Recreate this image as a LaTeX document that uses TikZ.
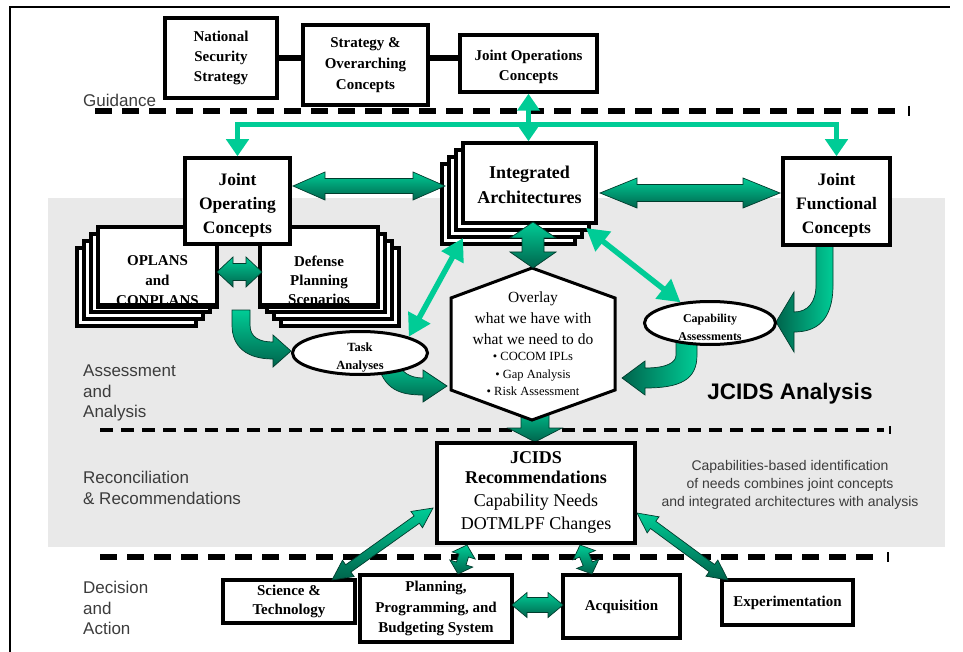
\documentclass[tikz,border=0pt]{standalone}
\usepackage{fontspec}
\setmainfont{Liberation Serif}
\newfontfamily\lsans{Liberation Sans}
\usetikzlibrary{calc,shapes.geometric,arrows.meta}

\definecolor{gL}{RGB}{0,204,150}
\definecolor{gD}{RGB}{0,100,76}
\definecolor{gOut}{RGB}{0,60,45}
\definecolor{bgGray}{RGB}{233,233,233}
\definecolor{lblGray}{RGB}{60,60,60}

\newcommand\fsz[2]{\fontsize{#1}{#2}\selectfont}

% double-headed block arrow: from, to, shaft half width, head half width, head length
\newcommand\dblarrow[5]{%
  \path let \p1=($(#2)-(#1)$) in \pgfextra{%
    \pgfmathsetmacro\arLen{veclen(\x1,\y1)}%
    \pgfmathsetmacro\arAng{atan2(\y1,\x1)}%
    \global\let\garLen\arLen \global\let\garAng\arAng};
  \begin{scope}[shift={(#1)}, rotate=\garAng, x=1pt, y=1pt]
    \path[blockarrow] (0,0) -- (#5,#4) -- (#5,#3) -- (\garLen-#5,#3) -- (\garLen-#5,#4) -- (\garLen,0)
      -- (\garLen-#5,-#4) -- (\garLen-#5,-#3) -- (#5,-#3) -- (#5,-#4) -- cycle;
  \end{scope}}
% single-headed block arrow
\newcommand\sglarrow[5]{%
  \path let \p1=($(#2)-(#1)$) in \pgfextra{%
    \pgfmathsetmacro\arLen{veclen(\x1,\y1)}%
    \pgfmathsetmacro\arAng{atan2(\y1,\x1)}%
    \global\let\garLen\arLen \global\let\garAng\arAng};
  \begin{scope}[shift={(#1)}, rotate=\garAng, x=1pt, y=1pt]
    \path[blockarrow] (0,#3) -- (\garLen-#5,#3) -- (\garLen-#5,#4) -- (\garLen,0)
      -- (\garLen-#5,-#4) -- (\garLen-#5,-#3) -- (0,-#3) -- cycle;
  \end{scope}}

\tikzset{
  dbox/.style={draw, line width=3.5pt, fill=white, inner sep=0pt, align=center},
  dlayer/.style={draw, line width=3.5pt, fill=white},
  btxt/.style={align=center, inner sep=0pt},
  lbl/.style={font=\lsans\fsz{17}{20.5}, text=lblGray, align=left, anchor=west, inner sep=0pt},
  gline/.style={draw=gL, line width=5pt},
  gboth/.style={{Triangle[length=17pt,width=22pt]}-{Triangle[length=17pt,width=22pt]}},
  thinarrow/.style={draw=gL, line width=5.5pt, {Triangle[length=22pt,width=24pt]}-{Triangle[length=22pt,width=24pt]}},
  blockarrow/.style={draw=gOut, line width=0.7pt, top color=gL, bottom color=gD},
  blockarrowH/.style={draw=gOut, line width=0.7pt, left color=gD, right color=gL},
  dashA/.style={line width=6pt, dash pattern=on 17pt off 10pt},
  dashB/.style={line width=4pt, dash pattern=on 13pt off 8pt},
  doval/.style={ellipse, draw, line width=3pt, fill=white, inner sep=0pt},
  sz/.style 2 args={minimum width=#1pt, minimum height=#2pt},
}

\begin{document}
\begin{tikzpicture}[x=1pt,y=-1pt]
\useasboundingbox (0,0) rectangle (963,652);
\fill[bgGray] (48,198) rectangle (945,547);
\draw[line width=1.5pt] (10,652) -- (10,7) -- (950,7);

% dashed separators
\draw[dashA] (95,111) -- (902,111);
\draw[line width=1.2pt] (909,106) -- (909,116);
\draw[dashB] (100,430) -- (884,430);
\draw[line width=1.2pt] (890,426) -- (890,434);
\draw[dashA] (100,557) -- (880,557);
\draw[line width=1.2pt] (888,552) -- (888,562);

% side labels
\node[lbl] (lguid) at (83,100) {Guidance};
\node[lbl] (lassess) at (83,393) {Assessment\\and\\Analysis};
\node[lbl] (lrecon) at (83,488) {Reconciliation\\\& Recommendations};
\node[lbl] (ldecis) at (83,608) {Decision\\and\\Action};

% guidance boxes
\node[dbox, sz={112}{80}, font=\bfseries\fsz{15}{20}] (nss) at (221,58) {National\\Security\\Strategy};
\node[dbox, sz={125}{80}, font=\bfseries\fsz{15}{21}] (soc) at (365.5,65) {Strategy \&\\Overarching\\Concepts};
\node[dbox, sz={137}{57}] (joc) at (528.5,63.5) {};
\node[btxt, font=\bfseries\fsz{15}{20}] (joctxt) at (528.5,67) {Joint Operations\\Concepts};
\draw[line width=6pt] (nss.east) -- (nss.east -| soc.west);
\draw[line width=6pt] (soc.east |- nss.east) -- (nss.east -| joc.west);

% curved block arrows (under boxes and ellipses)
\path[blockarrowH] (816,240) -- (833,240) -- (833,285) .. controls (833,322) and (815,332) .. (794,332)
  -- (794,352) -- (776,322) -- (794,292) -- (794,312) .. controls (808,312) and (816,302) .. (816,285) -- cycle;
\path[blockarrowH] (676,335) -- (697,335) -- (697,355) .. controls (697,380) and (680,388) .. (645,388)
  -- (645,395) -- (622,378) -- (645,361) -- (645,368) .. controls (668,368) and (676,362) .. (676,355) -- cycle;
\path[blockarrow] (377,362) .. controls (384,390) and (400,395) .. (423,395) -- (423,402) -- (447,386)
  -- (423,370) -- (423,378) .. controls (410,378) and (400,372) .. (397,360) -- cycle;
\path[blockarrow] (232,310) -- (250,310) -- (250,325) .. controls (250,337) and (259,342) .. (273,342)
  -- (273,335) -- (291,351) -- (273,367) -- (273,359) .. controls (247,359) and (232,347) .. (232,325) -- cycle;

% OPLANS stack
\foreach \k in {3,2,1} \draw[dlayer] (98-7*\k,227+7*\k) rectangle (217-7*\k,305+7*\k);
\node[dbox, sz={119}{78}] (opl) at (157.5,266) {};
\node[btxt, font=\bfseries\fsz{15}{20}] (opltxt) at (157.5,281) {OPLANS\\and\\CONPLANS};
\draw[line width=3.5pt] (opl.south west) -- (opl.south east);

% Defense Planning Scenarios stack
\foreach \k in {3,2,1} \draw[dlayer] (260+7*\k,227+7*\k) rectangle (378+7*\k,305+7*\k);
\node[dbox, sz={118}{78}] (dps) at (319,266) {};
\node[btxt, font=\bfseries\fsz{15}{19}] (dpstxt) at (319,280) {Defense\\Planning\\Scenarios};
\draw[line width=3.5pt] (dps.south west) -- (dps.south east);

% Joint Operating Concepts
\node[dbox, sz={105}{86}] (jop) at (237.5,201) {};
\node[btxt, font=\bfseries\fsz{17.5}{24}] (joptxt) at (237.5,205) {Joint\\Operating\\Concepts};

% Integrated Architectures stack
\foreach \k in {3,2,1} \draw[dlayer] (463-7*\k,143+7*\k) rectangle (596-7*\k,223+7*\k);
\node[dbox, sz={133}{80}] (ia) at (529.5,183) {};
\node[btxt, font=\bfseries\fsz{18}{25}] (iatxt) at (529.5,185) {Integrated\\Architectures};

% Joint Functional Concepts
\node[dbox, sz={107}{87}] (jfc) at (836.5,201.5) {};
\node[btxt, font=\bfseries\fsz{17.5}{24}] (jfctxt) at (836.5,205.5) {Joint\\Functional\\Concepts};

% guidance green connectors
\coordinate (gy) at (0,125);
\draw[gline, gboth] (jop.north) -- (jop.north |- gy) -- (jfc.north |- gy) -- (jfc.north);
\draw[gline, gboth] (joc.south) -- (joc.south |- ia.north);

% hexagon -> JCIDS arrow (under hexagon)
\coordinate (a5s) at (535,405);
\coordinate (a5e) at (535,442);
\sglarrow{a5s}{a5e}{14}{27}{14}

% hexagon
\draw[line width=3pt, fill=white] (532,268) -- (615,298) -- (615,390) -- (532,420) -- (451,390) -- (451,298) -- cycle;
\node[btxt, font=\fsz{15.5}{21}] (hexA) at (533,318) {Overlay\\what we have with\\what we need to do};
\node[btxt, font=\fsz{12.5}{17.5}] (hexB) at (533,374) {\textbullet\ COCOM IPLs\\\textbullet\ Gap Analysis\\\textbullet\ Risk Assessment};

% ellipses
\node[doval, minimum width=135pt, minimum height=43pt] (task) at (360,353) {};
\node[btxt, font=\bfseries\fsz{12.5}{18}] (tasktxt) at (360,358) {Task\\Analyses};
\node[doval, minimum width=131pt, minimum height=43pt] (cap) at (710,323) {};
\node[btxt, font=\bfseries\fsz{12}{18}] (captxt) at (710,327) {Capability\\Assessments};

% straight block arrows
\coordinate (a1s) at (293,186); \coordinate (a1e) at (445,186);
\dblarrow{a1s}{a1e}{7.5}{14}{32}
\coordinate (a2s) at (217,272); \coordinate (a2e) at (262,272);
\dblarrow{a2s}{a2e}{8.5}{15}{16}
\coordinate (a3s) at (600,193); \coordinate (a3e) at (780,193);
\dblarrow{a3s}{a3e}{8.5}{15}{37}
\coordinate (a4s) at (533,222); \coordinate (a4e) at (533,268);
\dblarrow{a4s}{a4e}{11}{23}{16}

% thin diagonal arrows
\coordinate (iaTL) at (463,238);
\coordinate (iaTR) at (586,228);
\draw[thinarrow] (task.north east) -- (iaTL);
\draw[thinarrow] (iaTR) -- (cap.145);

% analysis title and note
\node[font=\lsans\bfseries\fsz{22.5}{26}, inner sep=0pt] (jana) at (790,394) {JCIDS Analysis};
\node[btxt, font=\lsans\fsz{14}{18}, text=lblGray] (capid) at (790,485) {Capabilities-based identification\\of needs combines joint concepts\\and integrated architectures with analysis};

% JCIDS recommendations
\node[dbox, sz={198}{100}] (jrec) at (536,493) {};
\node[btxt, font=\bfseries\fsz{18}{20}] (jrecA) at (536,468) {JCIDS\\Recommendations};
\node[btxt, font=\fsz{18}{23}] (jrecB) at (536,514) {Capability Needs\\DOTMLPF Changes};

% decision boxes
\node[dbox, sz={132}{43}, font=\bfseries\fsz{15}{19}] (st) at (289,601.5) {Science \&\\Technology};
\node[dbox, sz={152}{67}, font=\bfseries\fsz{15}{20.5}] (ppbs) at (436,608.5) {Planning,\\Programming, and\\Budgeting System};
\node[dbox, sz={117}{63}, font=\bfseries\fsz{15}{19}] (acq) at (621.5,606.5) {Acquisition};
\node[dbox, sz={131}{45}, font=\bfseries\fsz{15}{19}] (exp) at (787.5,602.5) {Experimentation};

% decision arrows
\coordinate (b1s) at (433,508); \coordinate (b1e) at (332,580);
\dblarrow{b1s}{b1e}{4.5}{10}{20}
\coordinate (b2s) at (467,545); \coordinate (b2e) at (458,574);
\dblarrow{b2s}{b2e}{5}{12}{11}
\coordinate (b3s) at (580,545); \coordinate (b3e) at (592,574);
\dblarrow{b3s}{b3e}{5}{12}{11}
\coordinate (b4s) at (637,513); \coordinate (b4e) at (728,580);
\dblarrow{b4s}{b4e}{4.5}{10}{20}
\coordinate (b5s) at (512,605); \coordinate (b5e) at (563,605);
\dblarrow{b5s}{b5e}{7.5}{12.5}{15}
\end{tikzpicture}
\end{document}
